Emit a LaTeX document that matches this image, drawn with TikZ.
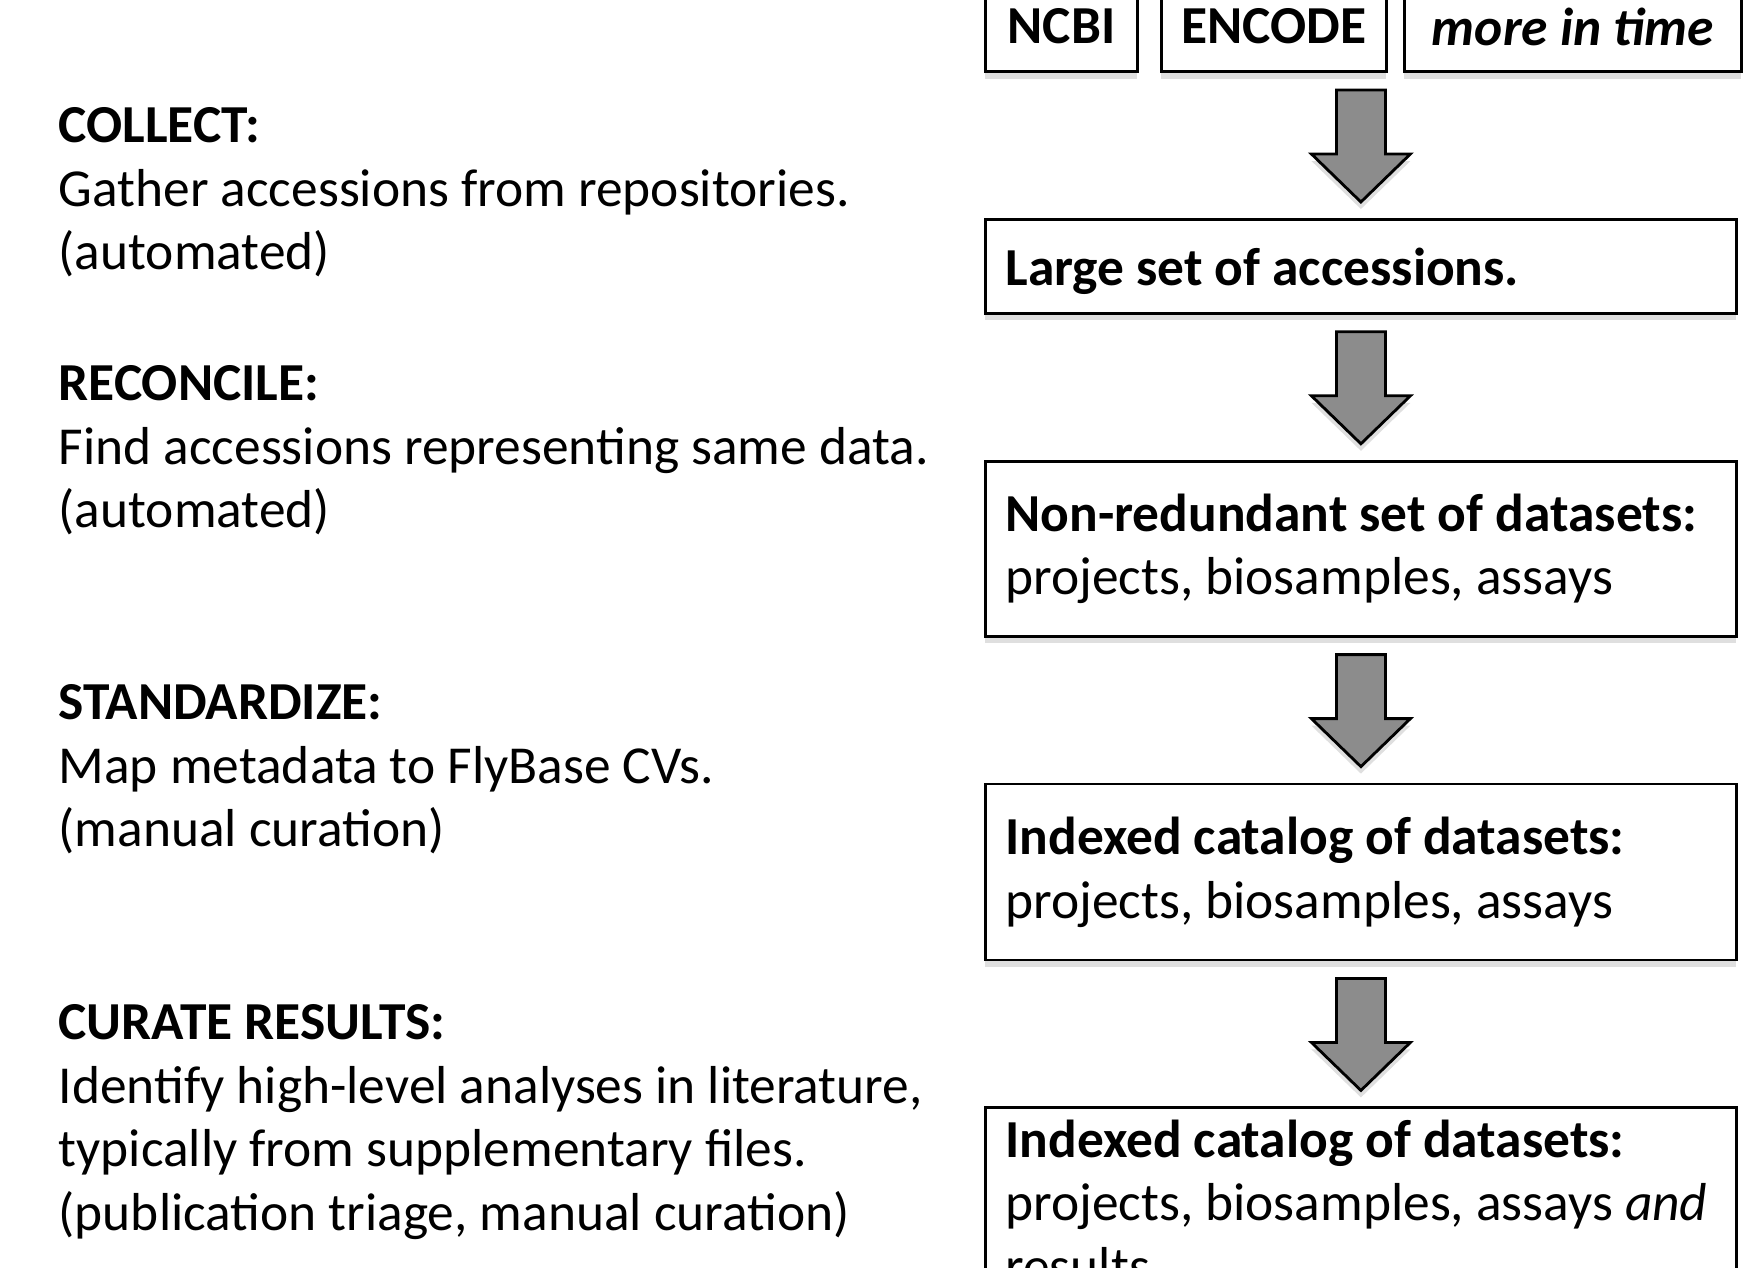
\documentclass[tikz,border=0pt]{standalone}
\usepackage{fontspec}
\setmainfont{Carlito}
\usetikzlibrary{positioning, calc, shadows}

\newcommand{\flowfont}{\fontsize{15.2pt}{18.1pt}\selectfont}

% block arrow from the bottom of #1 to the top of #2
\newcommand{\blockarrow}[2]{%
    \coordinate (t) at ($(#2.north |- #1.south)+(0,-0.17)$);
    \coordinate (tip) at ($(#2.north)+(0,0.16)$);
    \draw [bigarrow] ($(t)+(-0.245,0)$) -- ($(t)+(0.245,0)$) -- ++(0,-0.64) -- ++(0.25,0)
        -- (tip) -- ++(-0.495,0.48) -- ++(0.25,0) -- cycle;
}

\begin{document}
\begin{tikzpicture}[
    node distance=1.45cm,
    sourcebox/.style={rectangle, draw=black, line width=0.8pt, fill=white, drop shadow={shadow xshift=0pt, shadow yshift=-2pt, opacity=0.25}, minimum height=0.9cm, font=\flowfont\bfseries},
    stagebox/.style={rectangle, draw=black, line width=0.8pt, fill=white, drop shadow={shadow xshift=0pt, shadow yshift=-2pt, opacity=0.25}, text width=7.11cm, inner xsep=0.2cm, minimum width=7.51cm, align=flush left, font=\flowfont},
    steptext/.style={anchor=north west, inner sep=0pt, align=left, font=\flowfont},
    bigarrow/.style={draw=black, line width=0.8pt, fill=black!45, drop shadow={shadow xshift=0pt, shadow yshift=-2pt, opacity=0.25}}
]
    \useasboundingbox (0,0) rectangle (17.59,-12.68);
    \clip (0,0) rectangle (17.59,-12.68);

    % Left column: pipeline steps
    \node (collect) [steptext] at (0.58,-1.07) {\textbf{COLLECT:}\\ Gather accessions from repositories.\\ (automated)};
    \node (reconcile) [steptext] at (0.58,-3.65) {\textbf{RECONCILE:}\\ Find accessions representing same data.\\ (automated)};
    \node (standardize) [steptext] at (0.58,-6.84) {\textbf{STANDARDIZE:}\\ Map metadata to FlyBase CVs.\\ (manual curation)};
    \node (curate) [steptext] at (0.58,-10.04) {\textbf{CURATE RESULTS:}\\ Identify high-level analyses in literature,\\ typically from supplementary files.\\ (publication triage, manual curation)};

    % Sources
    \node (ncbi) [sourcebox, anchor=south west, minimum width=1.52cm] at (9.84,-0.73) {NCBI};
    \node (encode) [sourcebox, anchor=south west, minimum width=2.25cm] at (11.60,-0.73) {ENCODE};
    \node (more) [sourcebox, anchor=south west, minimum width=3.37cm] at (14.03,-0.73) {\itshape more in time};

    % Right column: results of each step
    \node (large) [stagebox, anchor=north west, minimum height=0.94cm, text depth=0pt] at (9.84,-2.18) {\textbf{Large set of accessions.}};
    \node (nonred) [stagebox, below=of large, minimum height=1.75cm] {\textbf{Non-redundant set of datasets:}\\ projects, biosamples, assays};
    \node (indexed) [stagebox, below=of nonred, minimum height=1.76cm] {\textbf{Indexed catalog of datasets:}\\ projects, biosamples, assays};
    \node (curated) [stagebox, below=of indexed, inner ysep=0.12cm] {\textbf{Indexed catalog of datasets:}\\ projects, biosamples, assays \emph{and} results};

    % Arrows
    \blockarrow{encode}{large}
    \blockarrow{large}{nonred}
    \blockarrow{nonred}{indexed}
    \blockarrow{indexed}{curated}

\end{tikzpicture}
\end{document}
